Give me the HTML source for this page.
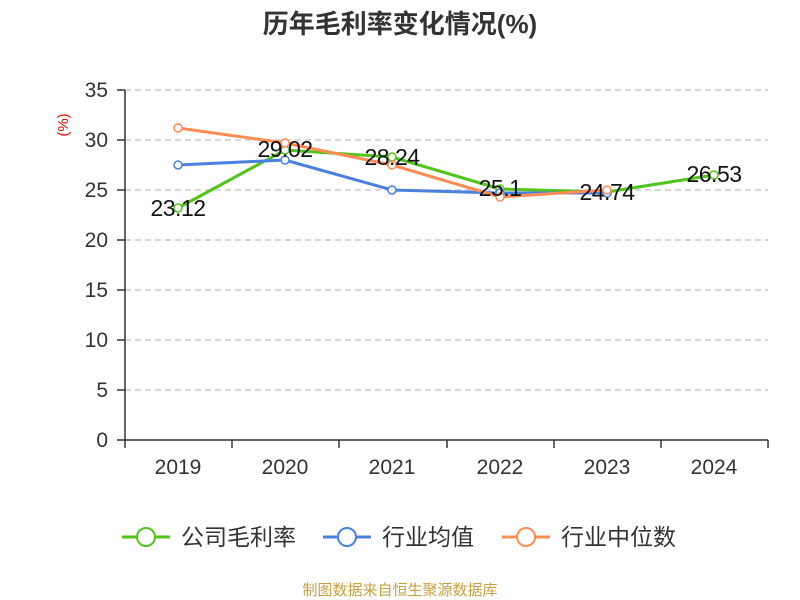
<!DOCTYPE html>
<html><head><meta charset="utf-8"><style>body{margin:0;background:#fff}svg{display:block}</style></head>
<body>
<svg width="800" height="600" xmlns="http://www.w3.org/2000/svg" font-family="'Liberation Sans','Noto Sans CJK SC',sans-serif">
<text x="400" y="33" text-anchor="middle" font-size="26" font-weight="bold" fill="#333">历年毛利率变化情况(%)</text>
<text transform="translate(68,125) rotate(-90)" text-anchor="middle" font-size="15" fill="#e00">(%)</text>
<g stroke="#ccc" stroke-dasharray="6,4" stroke-width="1.5">
<line x1="125" x2="768" y1="90" y2="90"/><line x1="125" x2="768" y1="140" y2="140"/><line x1="125" x2="768" y1="190" y2="190"/><line x1="125" x2="768" y1="240" y2="240"/><line x1="125" x2="768" y1="290" y2="290"/><line x1="125" x2="768" y1="340" y2="340"/><line x1="125" x2="768" y1="390" y2="390"/>
</g>
<g stroke="#333" stroke-width="1.5">
<line x1="125" x2="125" y1="90" y2="440"/><line x1="125" x2="768" y1="440" y2="440"/>
<line x1="117" x2="125" y1="90" y2="90"/><line x1="117" x2="125" y1="140" y2="140"/><line x1="117" x2="125" y1="190" y2="190"/><line x1="117" x2="125" y1="240" y2="240"/><line x1="117" x2="125" y1="290" y2="290"/><line x1="117" x2="125" y1="340" y2="340"/><line x1="117" x2="125" y1="390" y2="390"/><line x1="117" x2="125" y1="440" y2="440"/>
<line x1="125" x2="125" y1="440" y2="448"/><line x1="232" x2="232" y1="440" y2="448"/><line x1="339" x2="339" y1="440" y2="448"/><line x1="447" x2="447" y1="440" y2="448"/><line x1="554" x2="554" y1="440" y2="448"/><line x1="661" x2="661" y1="440" y2="448"/><line x1="768" x2="768" y1="440" y2="448"/>
</g>
<g font-size="21" fill="#333" text-anchor="end">
<text x="108" y="97">35</text><text x="108" y="147">30</text><text x="108" y="197">25</text><text x="108" y="247">20</text><text x="108" y="297">15</text><text x="108" y="347">10</text><text x="108" y="397">5</text><text x="108" y="447">0</text>
</g>
<g font-size="21" fill="#333" text-anchor="middle">
<text x="178" y="474">2019</text><text x="285" y="474">2020</text><text x="392" y="474">2021</text><text x="500" y="474">2022</text><text x="607" y="474">2023</text><text x="714" y="474">2024</text>
</g>
<g fill="none" stroke-width="3">
<polyline stroke="#52c41a" points="178,208 285,150 392,157 500,189 607,192 714,175"/>
<polyline stroke="#4a80e0" points="178,165 285,160 392,190 500,193 607,193"/>
<polyline stroke="#ff8c55" points="178,128 285,143 392,165 500,197 607,190"/>
</g>
<g fill="#fff" stroke-width="1.5">
<g stroke="#52c41a"><circle cx="178" cy="208" r="4"/><circle cx="285" cy="150" r="4"/><circle cx="392" cy="157" r="4"/><circle cx="500" cy="189" r="4"/><circle cx="607" cy="192" r="4"/><circle cx="714" cy="175" r="4"/></g>
<g stroke="#4a80e0"><circle cx="178" cy="165" r="4"/><circle cx="285" cy="160" r="4"/><circle cx="392" cy="190" r="4"/><circle cx="500" cy="193" r="4"/><circle cx="607" cy="193" r="4"/></g>
<g stroke="#ff8c55"><circle cx="178" cy="128" r="4"/><circle cx="285" cy="143" r="4"/><circle cx="392" cy="165" r="4"/><circle cx="500" cy="197" r="4"/><circle cx="607" cy="190" r="4"/></g>
</g>
<g font-size="23" fill="#111" text-anchor="middle" letter-spacing="-0.5">
<text x="178" y="216">23.12</text><text x="285" y="157">29.02</text><text x="392" y="165">28.24</text><text x="500" y="196">25.1</text><text x="607" y="200">24.74</text><text x="714" y="182">26.53</text>
</g>
<g stroke-width="3" fill="#fff">
<line x1="122" x2="170" y1="537" y2="537" stroke="#52c41a"/><circle cx="146" cy="537" r="9" stroke="#52c41a" stroke-width="2"/>
<line x1="323" x2="371" y1="537" y2="537" stroke="#4a80e0"/><circle cx="347" cy="537" r="9" stroke="#4a80e0" stroke-width="2"/>
<line x1="502" x2="550" y1="537" y2="537" stroke="#ff8c55"/><circle cx="526" cy="537" r="9" stroke="#ff8c55" stroke-width="2"/>
</g>
<g font-size="23" fill="#333">
<text x="181" y="545">公司毛利率</text><text x="382" y="545">行业均值</text><text x="561" y="545">行业中位数</text>
</g>
<text x="400" y="595" text-anchor="middle" font-size="15" fill="#c8a040">制图数据来自恒生聚源数据库</text>
</svg>
</body></html>
